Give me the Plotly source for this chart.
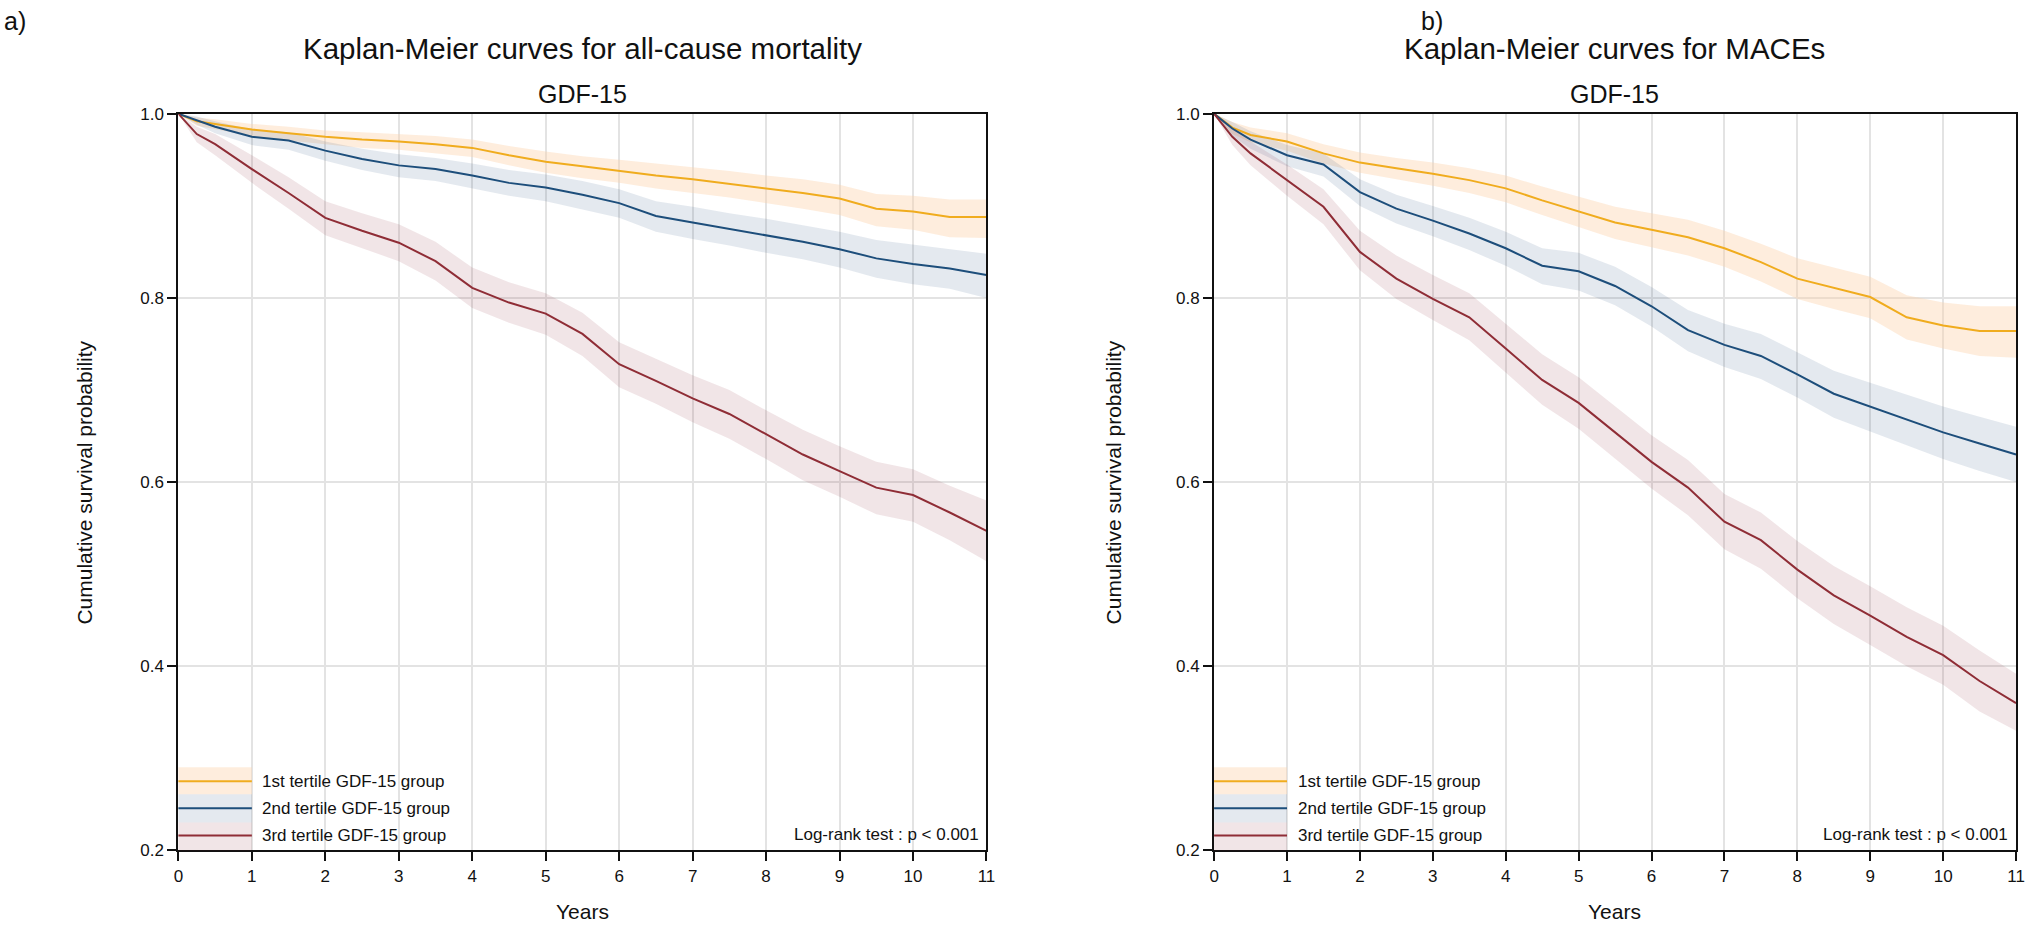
import plotly.graph_objects as go

# follow-up time grid (years)
years = [0, 0.25, 0.5, 1, 1.5, 2, 2.5, 3, 3.5, 4, 4.5, 5, 5.5, 6, 6.5, 7, 7.5, 8, 8.5, 9, 9.5, 10, 10.5, 11]

# a) all-cause mortality
mort_t1 = [1.0, .992, .989, .983, .979, .975, .972, .970, .967, .963, .955, .948, .943, .938, .933, .929, .924, .919, .914, .908, .897, .894, .888, .888]
mort_t1_hi = [1.0, .996, .994, .989, .986, .982, .980, .978, .976, .972, .965, .959, .954, .950, .946, .942, .938, .933, .929, .923, .913, .911, .907, .907]
mort_t1_lo = [1.0, .987, .983, .976, .971, .967, .963, .961, .957, .953, .944, .936, .930, .925, .919, .914, .909, .903, .897, .890, .878, .874, .866, .865]
mort_t2 = [1.0, .993, .986, .975, .971, .960, .951, .944, .940, .933, .925, .920, .912, .903, .889, .882, .875, .868, .861, .853, .843, .837, .832, .825]
mort_t2_hi = [1.0, .997, .992, .983, .980, .970, .962, .956, .952, .946, .939, .934, .927, .918, .905, .899, .892, .886, .879, .872, .863, .858, .853, .848]
mort_t2_lo = [1.0, .988, .979, .966, .961, .949, .939, .931, .927, .919, .911, .905, .896, .887, .872, .864, .857, .849, .842, .833, .822, .815, .810, .800]
mort_t3 = [1.0, .978, .967, .940, .914, .887, .873, .860, .840, .811, .795, .783, .761, .728, .710, .691, .674, .652, .630, .612, .594, .586, .567, .547]
mort_t3_hi = [1.0, .986, .978, .955, .931, .905, .892, .880, .861, .833, .817, .805, .784, .752, .734, .716, .700, .678, .657, .639, .622, .614, .596, .580]
mort_t3_lo = [1.0, .969, .955, .925, .897, .868, .854, .840, .819, .789, .773, .760, .737, .703, .685, .665, .647, .625, .602, .584, .565, .557, .537, .514]

# b) MACEs
mace_t1 = [1.0, .985, .977, .970, .957, .947, .941, .935, .928, .919, .906, .894, .882, .874, .866, .854, .839, .821, .811, .801, .779, .770, .764, .764]
mace_t1_hi = [1.0, .991, .985, .979, .967, .958, .952, .947, .941, .933, .921, .910, .899, .892, .885, .873, .859, .843, .833, .823, .803, .795, .791, .791]
mace_t1_lo = [1.0, .978, .969, .960, .946, .936, .929, .922, .914, .904, .890, .877, .864, .855, .846, .834, .818, .799, .788, .778, .755, .745, .737, .735]
mace_t2 = [1.0, .984, .972, .955, .945, .915, .897, .884, .870, .854, .835, .829, .813, .791, .765, .749, .737, .717, .696, .682, .668, .654, .642, .630]
mace_t2_hi = [1.0, .991, .981, .966, .957, .929, .912, .900, .887, .872, .854, .849, .834, .812, .787, .772, .761, .741, .721, .708, .695, .682, .671, .660]
mace_t2_lo = [1.0, .976, .962, .943, .932, .900, .881, .867, .852, .835, .815, .808, .792, .769, .742, .725, .712, .692, .670, .655, .640, .625, .612, .600]
mace_t3 = [1.0, .975, .957, .928, .899, .850, .821, .799, .779, .745, .711, .686, .654, .622, .594, .557, .537, .505, .477, .455, .432, .412, .384, .360]
mace_t3_hi = [1.0, .984, .970, .945, .918, .873, .846, .825, .805, .772, .739, .714, .683, .651, .624, .587, .567, .536, .509, .487, .464, .444, .417, .392]
mace_t3_lo = [1.0, .966, .944, .911, .880, .830, .799, .776, .754, .719, .684, .658, .625, .593, .564, .527, .506, .474, .446, .423, .400, .380, .351, .330]

group_names = ["1st tertile GDF-15 group", "2nd tertile GDF-15 group", "3rd tertile GDF-15 group"]
line_colors = ["#F0AC1E", "#1D4E7B", "#8F2D36"]
band_colors = ["rgba(253,210,170,0.40)", "rgba(29,78,123,0.12)", "rgba(143,45,54,0.12)"]

FONT = "Arial, Liberation Sans, sans-serif"
INK = "#111111"
W, H = 2032, 929

panels = [
    dict(label="a)", label_x=-3, ytitle_x=80, cx=581.5,
         title="Kaplan-Meier curves for all-cause mortality", x0=174.6, x1=988.3, xa="x", ya="y",
         curves=[(mort_t1, mort_t1_lo, mort_t1_hi), (mort_t2, mort_t2_lo, mort_t2_hi), (mort_t3, mort_t3_lo, mort_t3_hi)]),
    dict(label="b)", label_x=1424, ytitle_x=1116, cx=1621,
         title="Kaplan-Meier curves for MACEs", x0=1217.5, x1=2025, xa="x2", ya="y2",
         curves=[(mace_t1, mace_t1_lo, mace_t1_hi), (mace_t2, mace_t2_lo, mace_t2_hi), (mace_t3, mace_t3_lo, mace_t3_hi)]),
]
PLOT_TOP, PLOT_BOT = 107, 859


def px_x(px):
    return px / W


def px_y(py):
    return 1 - py / H


fig = go.Figure()
annotations = []
shapes = []

for i, p in enumerate(panels):
    # confidence bands first so the curves sit on top
    for k, (s, lo, hi) in enumerate(p["curves"]):
        fig.add_trace(go.Scatter(
            x=years + years[::-1], y=hi + lo[::-1], fill="toself", fillcolor=band_colors[k],
            line=dict(width=0), mode="lines", hoverinfo="skip", showlegend=False,
            xaxis=p["xa"], yaxis=p["ya"]))
    for k, (s, lo, hi) in enumerate(p["curves"]):
        fig.add_trace(go.Scatter(
            x=years, y=s, mode="lines", line=dict(color=line_colors[k], width=2),
            name=group_names[k], showlegend=False, xaxis=p["xa"], yaxis=p["ya"]))

    ax = dict(domain=[px_x(p["x0"]), px_x(p["x1"])], range=[0, 11], dtick=1, tick0=0,
              showline=True, linecolor=INK, linewidth=2, mirror=True,
              ticks="outside", ticklen=9, tickwidth=2, tickcolor=INK,
              showgrid=True, gridcolor="#E3E3E3", gridwidth=2, zeroline=False,
              tickfont=dict(family=FONT, size=17, color=INK))
    ay = dict(domain=[px_y(PLOT_BOT), px_y(PLOT_TOP)], range=[0.2, 1.0], dtick=0.2, tick0=0.2,
              tickformat=".1f", showline=True, linecolor=INK, linewidth=2, mirror=True,
              ticks="outside", ticklen=9, tickwidth=2, tickcolor=INK,
              showgrid=True, gridcolor="#E3E3E3", gridwidth=2, zeroline=False,
              tickfont=dict(family=FONT, size=17, color=INK))
    if i == 0:
        fig.update_layout(xaxis=ax, yaxis=dict(ay, anchor="x"))
    else:
        fig.update_layout(xaxis2=dict(ax, anchor="y2"), yaxis2=dict(ay, anchor="x2"))

    cx = p["cx"]
    annotations += [
        dict(text=p["title"], x=px_x(cx), y=px_y(40.5), font=dict(size=29.5)),
        dict(text="GDF-15", x=px_x(cx), y=px_y(86.5), font=dict(size=25)),
        dict(text="Years", x=px_x(cx), y=px_y(921.5), font=dict(size=21)),
        dict(text="Cumulative survival probability", x=px_x(p["ytitle_x"]), y=px_y(483),
             textangle=-90, font=dict(size=21)),
        dict(text=p["label"], x=px_x(p["label_x"]), y=px_y(12.5), xanchor="left", font=dict(size=25)),
    ]

    # in-plot legend: band swatch with line across it, drawn in axis-domain units
    xd, yd = p["xa"] + " domain", p["ya"] + " domain"
    band_edges = [0.1128, 0.0761, 0.0380, 0.0]
    line_pos = [0.0938, 0.0571, 0.0204]
    for k in range(3):
        shapes.append(dict(type="rect", xref=xd, yref=yd, x0=0, x1=0.0909,
                           y0=band_edges[k + 1], y1=band_edges[k],
                           fillcolor=band_colors[k], line=dict(width=0), layer="above"))
        shapes.append(dict(type="line", xref=xd, yref=yd, x0=0, x1=0.0909,
                           y0=line_pos[k], y1=line_pos[k],
                           line=dict(color=line_colors[k], width=2), layer="above"))
        annotations.append(dict(text=group_names[k], xref=xd, yref=yd, x=0.1015, y=line_pos[k],
                                xanchor="left", font=dict(size=17)))
    annotations.append(dict(text="Log-rank test : p < 0.001", xref=xd, yref=yd, x=0.9926, y=0.0217,
                            xanchor="right", font=dict(size=17)))

for a in annotations:
    a.setdefault("xref", "paper")
    a.setdefault("yref", "paper")
    a.setdefault("xanchor", "center")
    a["yanchor"] = "middle"
    a["showarrow"] = False
    a["font"] = dict(family=FONT, color=INK, **a["font"])

fig.update_layout(
    width=W, height=H, margin=dict(l=0, r=0, t=0, b=0),
    paper_bgcolor="white", plot_bgcolor="white",
    font=dict(family=FONT, color=INK),
    annotations=annotations, shapes=shapes, showlegend=False,
)

# the page body has a default 8px margin; drop it so the figure fills the window exactly
fig.write_html("out.html", config={"displayModeBar": False},
               post_script="document.body.style.margin = '0';")
